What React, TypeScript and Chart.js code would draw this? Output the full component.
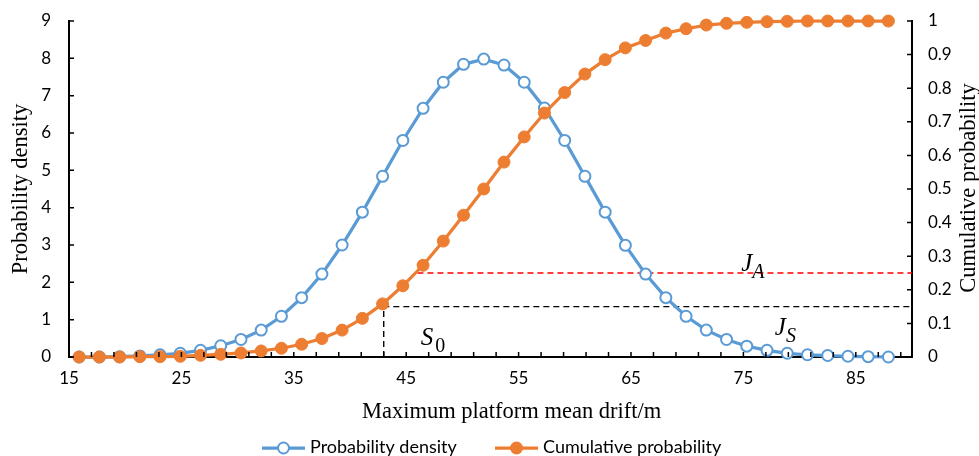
import React, { useEffect, useRef } from 'react';
import { Chart, registerables } from 'chart.js';

Chart.register(...registerables);

// ---- Data ----
const X_VALUES = [
  15.9, 17.7, 19.5, 21.3, 23.1, 24.9, 26.7, 28.5, 30.3, 32.1, 33.9, 35.7, 37.5, 39.3,
  41.1, 42.9, 44.7, 46.5, 48.3, 50.1, 51.9, 53.7, 55.5, 57.3, 59.1, 60.9, 62.7, 64.5,
  66.3, 68.1, 69.9, 71.7, 73.5, 75.3, 77.1, 78.9, 80.7, 82.5, 84.3, 86.1, 87.9,
];

const DENSITY = [
  0.0, 0.0, 0.01, 0.03, 0.06, 0.1, 0.18, 0.3, 0.47, 0.72, 1.09, 1.59, 2.22, 3.0,
  3.88, 4.84, 5.8, 6.66, 7.36, 7.84, 7.98, 7.82, 7.36, 6.67, 5.8, 4.84, 3.88, 2.99,
  2.22, 1.59, 1.09, 0.72, 0.47, 0.29, 0.18, 0.1, 0.06, 0.04, 0.02, 0.01, 0.0,
];

const CUMULATIVE = [
  0.0, 0.0, 0.0, 0.001, 0.001, 0.002, 0.005, 0.008, 0.012, 0.018, 0.026, 0.038, 0.055, 0.08,
  0.115, 0.158, 0.212, 0.273, 0.345, 0.422, 0.5, 0.58, 0.655, 0.726, 0.787, 0.842, 0.885, 0.92,
  0.942, 0.964, 0.977, 0.988, 0.993, 0.996, 0.998, 0.999, 1.0, 1.0, 1.0, 1.0, 1.0,
];

const X_TICK_LABELS = [15, 25, 35, 45, 55, 65, 75, 85];
const X_MINOR_TICKS = [
  15, 17, 19, 21, 23, 25, 27, 29, 31, 33, 35, 37, 39, 41, 43, 45, 47, 49, 51, 53, 55,
  57, 59, 61, 63, 65, 67, 69, 71, 73, 75, 77, 79, 81, 83, 85, 87, 89,
];
const LEFT_TICKS = [0, 1, 2, 3, 4, 5, 6, 7, 8, 9];
const RIGHT_TICKS = [0, 0.1, 0.2, 0.3, 0.4, 0.5, 0.6, 0.7, 0.8, 0.9, 1];

// reference lines (x on bottom axis, y on cumulative axis)
const RED_LINE_X = [46.0, 90];
const RED_LINE_Y = [0.25, 0.25];
const BLACK_LINE_X = [43.0, 43.0, 90];
const BLACK_LINE_Y = [0, 0.15, 0.15];

// annotation labels (anchor in data units: x bottom axis, y cumulative axis)
const ANNOTATIONS = [
  { main: 'J', sub: 'A', x: 74.8, y: 0.255, subItalic: true },
  { main: 'J', sub: 'S', x: 77.8, y: 0.065, subItalic: true },
  { main: 'S', sub: '0', x: 46.3, y: 0.035, subItalic: false },
];

const X_TITLE = 'Maximum platform mean drift/m';
const Y_TITLE = 'Probability density';
const Y1_TITLE = 'Cumulative probability';
const LEGEND_LABELS = ['Probability density', 'Cumulative probability'];

const BLUE = '#5B9BD5';
const ORANGE = '#ED7D31';

const overlayPlugin = {
  id: 'overlay',
  afterDraw(chart: any) {
    const { ctx, chartArea, scales } = chart;
    const xs = scales.x;
    const ys = scales.y;
    const y1 = scales.y1;
    ctx.save();

    // tick marks (inside)
    ctx.strokeStyle = '#000';
    ctx.lineWidth = 1.5;
    ctx.beginPath();
    for (const v of X_MINOR_TICKS) {
      const px = xs.getPixelForValue(v);
      ctx.moveTo(px, chartArea.bottom);
      ctx.lineTo(px, chartArea.bottom - 5);
    }
    for (const v of LEFT_TICKS) {
      const py = ys.getPixelForValue(v);
      ctx.moveTo(chartArea.left, py);
      ctx.lineTo(chartArea.left + 5, py);
    }
    for (const v of RIGHT_TICKS) {
      const py = y1.getPixelForValue(v);
      ctx.moveTo(chartArea.right, py);
      ctx.lineTo(chartArea.right - 5, py);
    }
    ctx.stroke();

    // axis titles
    ctx.fillStyle = '#000';
    ctx.font = '22.5px "Liberation Serif"';
    ctx.textBaseline = 'alphabetic';
    ctx.textAlign = 'left';
    ctx.fillText(X_TITLE, 362, 418);

    ctx.textAlign = 'center';
    ctx.save();
    ctx.translate(26.7, (chartArea.top + chartArea.bottom) / 2);
    ctx.rotate(-Math.PI / 2);
    ctx.fillText(Y_TITLE, 0, 0);
    ctx.restore();

    ctx.save();
    ctx.translate(975, (chartArea.top + chartArea.bottom) / 2 - 1);
    ctx.rotate(-Math.PI / 2);
    ctx.fillText(Y1_TITLE, 0, 0);
    ctx.restore();

    // legend
    const ly = 448;
    ctx.lineWidth = 3.25;
    ctx.strokeStyle = BLUE;
    ctx.beginPath();
    ctx.moveTo(262, ly);
    ctx.lineTo(305, ly);
    ctx.stroke();
    ctx.beginPath();
    ctx.arc(283.5, ly, 5.5, 0, Math.PI * 2);
    ctx.fillStyle = '#fff';
    ctx.fill();
    ctx.lineWidth = 2;
    ctx.stroke();

    ctx.lineWidth = 3.25;
    ctx.strokeStyle = ORANGE;
    ctx.beginPath();
    ctx.moveTo(495, ly);
    ctx.lineTo(538, ly);
    ctx.stroke();
    ctx.beginPath();
    ctx.arc(516.5, ly, 6.5, 0, Math.PI * 2);
    ctx.fillStyle = ORANGE;
    ctx.fill();

    ctx.fillStyle = '#000';
    ctx.font = '18px Lato';
    ctx.textAlign = 'left';
    ctx.textBaseline = 'middle';
    ctx.fillText(LEGEND_LABELS[0], 310, ly - 1);
    ctx.fillText(LEGEND_LABELS[1], 543, ly - 1);

    // annotations
    ctx.textBaseline = 'alphabetic';
    for (const a of ANNOTATIONS) {
      const px = xs.getPixelForValue(a.x);
      const py = y1.getPixelForValue(a.y);
      ctx.font = 'italic 25px "Liberation Serif"';
      ctx.fillText(a.main, px, py);
      const w = ctx.measureText(a.main).width;
      ctx.font = (a.subItalic ? 'italic ' : '') + '20px "Liberation Serif"';
      ctx.fillText(a.sub, px + w + (a.subItalic ? 0 : 2), py + 7);
    }

    ctx.restore();
  },
};

export default function App() {
  const canvasRef = useRef<HTMLCanvasElement | null>(null);

  useEffect(() => {
    document.body.style.margin = '0';
    const canvas = canvasRef.current;
    if (!canvas) return;

    const densityData = X_VALUES.map((x, i) => ({ x, y: DENSITY[i] }));
    const cumulativeData = X_VALUES.map((x, i) => ({ x, y: CUMULATIVE[i] }));
    const redData = RED_LINE_X.map((x, i) => ({ x, y: RED_LINE_Y[i] }));
    const blackData = BLACK_LINE_X.map((x, i) => ({ x, y: BLACK_LINE_Y[i] }));

    const tickFont = { family: 'Lato', size: 17 };

    const chart = new Chart(canvas, {
      type: 'line',
      data: {
        datasets: [
          {
            label: LEGEND_LABELS[1],
            data: cumulativeData,
            yAxisID: 'y1',
            borderColor: ORANGE,
            backgroundColor: ORANGE,
            borderWidth: 3.25,
            pointRadius: 6,
            pointBorderWidth: 1,
            pointBackgroundColor: ORANGE,
            pointBorderColor: ORANGE,
            tension: 0,
            clip: false as any,
            order: 0,
          },
          {
            label: LEGEND_LABELS[0],
            data: densityData,
            yAxisID: 'y',
            borderColor: BLUE,
            backgroundColor: '#fff',
            borderWidth: 3.25,
            pointRadius: 5.5,
            pointBorderWidth: 2,
            pointBackgroundColor: '#fff',
            pointBorderColor: BLUE,
            tension: 0,
            clip: false as any,
            order: 1,
          },
          {
            label: 'JA',
            data: redData,
            yAxisID: 'y1',
            borderColor: '#FF0000',
            borderWidth: 1.4,
            borderDash: [6, 4],
            pointRadius: 0,
            order: 2,
          },
          {
            label: 'JS',
            data: blackData,
            yAxisID: 'y1',
            borderColor: '#000000',
            borderWidth: 1.4,
            borderDash: [6, 4],
            pointRadius: 0,
            order: 3,
          },
        ],
      },
      options: {
        animation: false,
        responsive: false,
        devicePixelRatio: 1,
        layout: { padding: { top: 21, left: 0, right: 0, bottom: 0 } },
        plugins: {
          legend: { display: false },
          tooltip: { enabled: false },
        },
        scales: {
          x: {
            type: 'linear',
            position: 'bottom',
            min: 15,
            max: 90,
            grid: { display: false },
            border: { display: true, color: '#000', width: 2 },
            afterBuildTicks: (scale: any) => {
              scale.ticks = X_TICK_LABELS.map((v) => ({ value: v }));
            },
            afterFit: (scale: any) => {
              scale.height = 99;
            },
            ticks: {
              font: tickFont,
              color: '#000',
              padding: 3,
              maxRotation: 0,
              autoSkip: false,
              callback: (v: any) => String(v),
            },
          },
          y: {
            type: 'linear',
            position: 'left',
            min: 0,
            max: 9,
            grid: { display: false },
            border: { display: true, color: '#000', width: 2 },
            afterBuildTicks: (scale: any) => {
              scale.ticks = LEFT_TICKS.map((v) => ({ value: v }));
            },
            afterFit: (scale: any) => {
              scale.width = 69;
            },
            ticks: {
              font: tickFont,
              color: '#000',
              padding: 10,
              callback: (v: any) => String(v),
            },
          },
          y1: {
            type: 'linear',
            position: 'right',
            min: 0,
            max: 1,
            grid: { display: false },
            border: { display: true, color: '#000', width: 2 },
            afterBuildTicks: (scale: any) => {
              scale.ticks = RIGHT_TICKS.map((v) => ({ value: v }));
            },
            afterFit: (scale: any) => {
              scale.width = 67;
            },
            ticks: {
              font: tickFont,
              color: '#000',
              padding: 8,
              callback: (v: any) => String(Number(Number(v).toFixed(1))),
            },
          },
        },
      } as any,
      plugins: [overlayPlugin],
    });

    return () => {
      chart.destroy();
    };
  }, []);

  return (
    <canvas
      ref={canvasRef}
      width={979}
      height={456}
      style={{ display: 'block', width: '979px', height: '456px' }}
    />
  );
}
